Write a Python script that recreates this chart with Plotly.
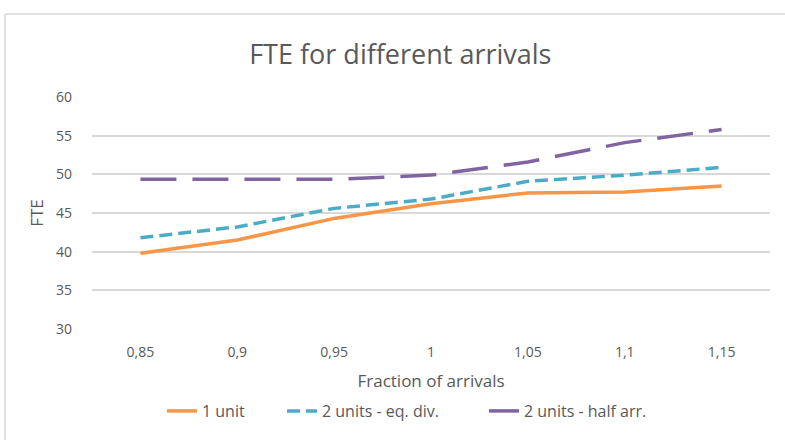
import plotly.graph_objects as go

categories = ["0,85", "0,9", "0,95", "1", "1,05", "1,1", "1,15"]
one_unit = [39.8, 41.5, 44.3, 46.2, 47.6, 47.7, 48.5]
two_units_eq = [41.8, 43.2, 45.6, 46.8, 49.1, 49.9, 50.9]
two_units_half = [49.35, 49.35, 49.35, 49.9, 51.6, 54.1, 55.8]
y_ticks = [30, 35, 40, 45, 50, 55, 60]

FONT = "Open Sans, Liberation Sans, sans-serif"
GRAY = "#595959"

fig = go.Figure()
fig.add_trace(go.Scatter(x=categories, y=one_unit, mode="lines", name="1 unit",
                         line=dict(color="#F79646", width=3.5), legend="legend"))
fig.add_trace(go.Scatter(x=categories, y=two_units_eq, mode="lines", name="2 units - eq. div.",
                         line=dict(color="#4BACC6", width=3.5, dash="13px,6px"), legend="legend2"))
fig.add_trace(go.Scatter(x=categories, y=two_units_half, mode="lines", name="2 units - half arr.",
                         line=dict(color="#8064A2", width=3.5, dash="36px,16px"), legend="legend3"))

PW = 678.0
PH = 232.0
def px(xp):
    return (xp - 92) / PW
def py(yp):
    return (329 - yp) / PH

leg_common = dict(orientation="h", yanchor="middle", xanchor="left",
                  font=dict(size=16, color=GRAY, family=FONT), itemwidth=30,
                  bgcolor="rgba(0,0,0,0)")

border = dict(color="#D9D9D9", width=1.5)

fig.update_layout(
    width=785, height=440,
    margin=dict(l=92, r=15, t=97, b=111, autoexpand=False),
    paper_bgcolor="white", plot_bgcolor="white",
    font=dict(family=FONT, color=GRAY, size=14),
    title=dict(text="FTE for different arrivals", x=0.51, xanchor="center",
               y=1 - 55 / 440, yanchor="middle",
               font=dict(family=FONT, size=27, color=GRAY)),
    showlegend=True,
    legend=dict(x=px(162), y=py(411), **leg_common),
    legend2=dict(x=px(282), y=py(411), **leg_common),
    legend3=dict(x=px(484), y=py(411), **leg_common),
    xaxis=dict(type="category", range=[-0.5, 6.5], showgrid=False, showline=False,
               zeroline=False, automargin=False,
               ticks="", tickfont=dict(size=14, color=GRAY), ticklabelstandoff=13,
               title=dict(text="Fraction of arrivals", font=dict(size=17, color=GRAY), standoff=15)),
    yaxis=dict(range=[30, 60], tickvals=y_ticks, showgrid=True, gridcolor="#D9D9D9",
               gridwidth=1.5, zeroline=False, showline=False, ticks="", automargin=False,
               tickfont=dict(size=14, color=GRAY), ticklabelstandoff=19,
               title=dict(text="FTE", font=dict(size=17, color=GRAY), standoff=8)),
    shapes=[
        dict(type="line", xref="paper", yref="paper",
             x0=px(5), x1=px(790), y0=py(14), y1=py(14), line=border, layer="below"),
        dict(type="line", xref="paper", yref="paper",
             x0=px(5), x1=px(5), y0=py(14), y1=py(450), line=border, layer="below"),
    ],
)

fig.write_html("out.html", config={"displayModeBar": False},
               post_script="document.body.style.margin='0';document.body.style.overflow='hidden';document.documentElement.style.overflow='hidden';")
